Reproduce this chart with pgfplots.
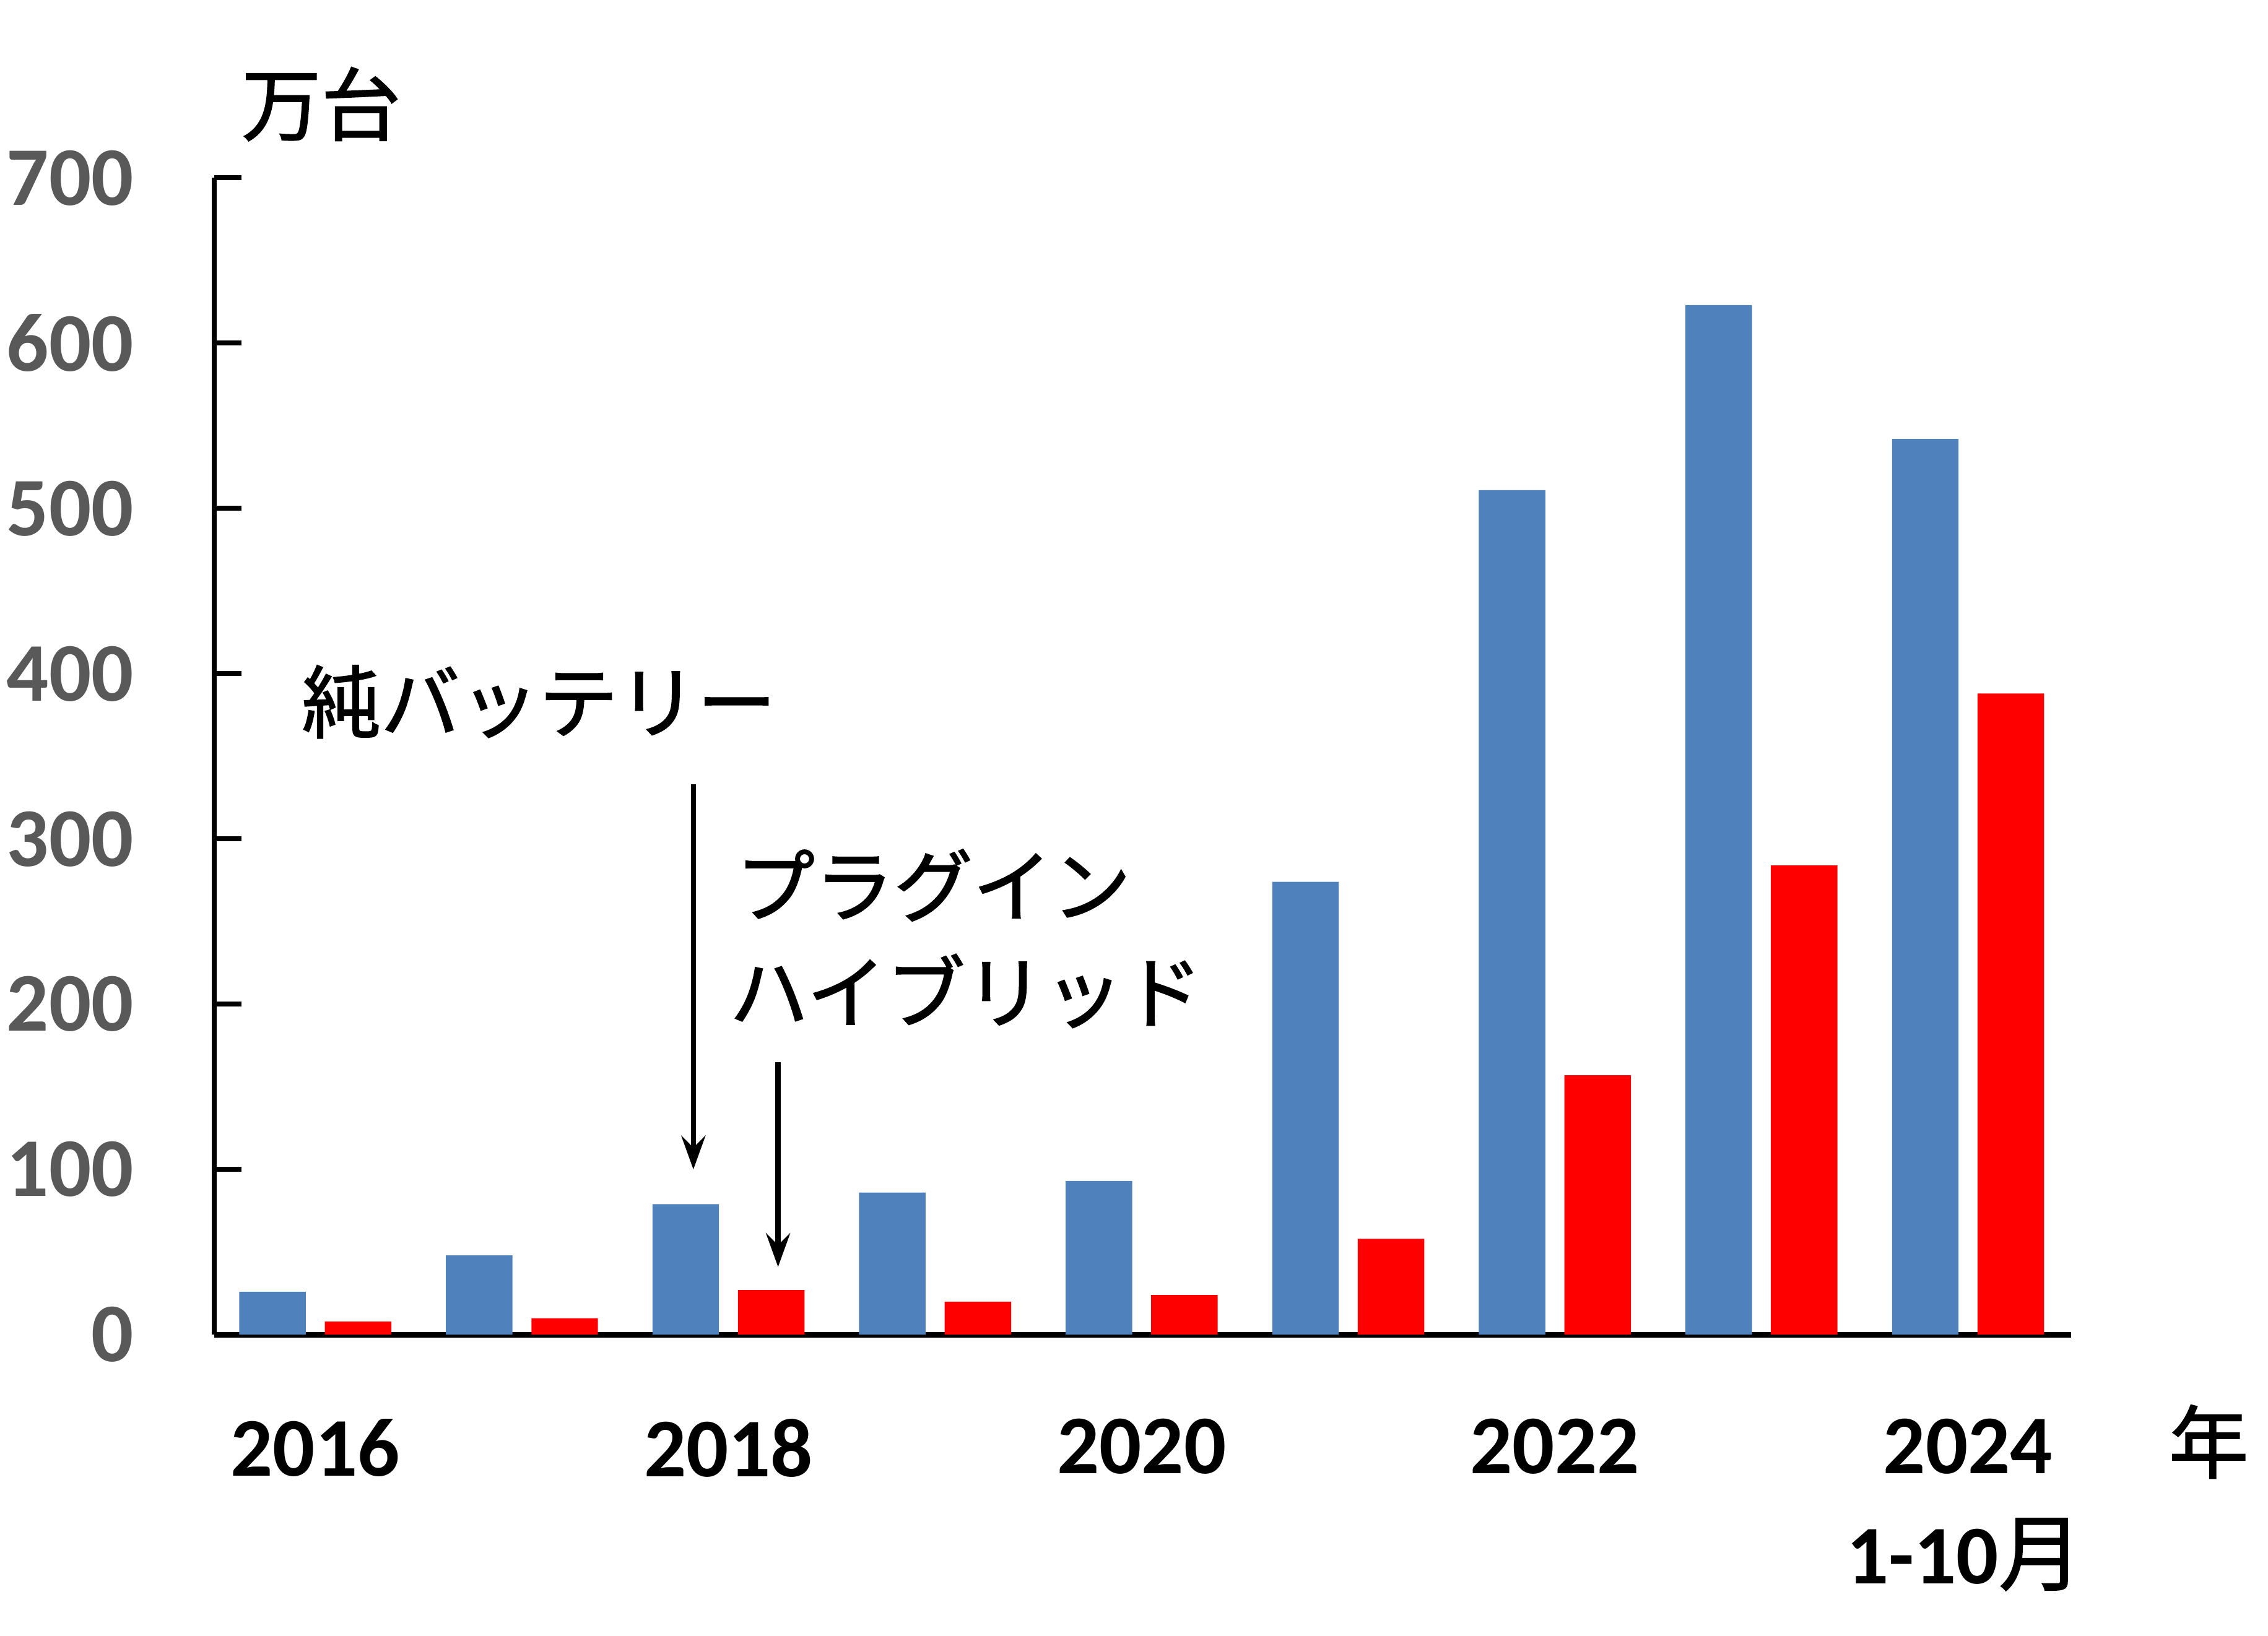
\documentclass[border=0pt]{standalone}
\usepackage{fontspec}
\setmainfont{Carlito}
\newfontfamily\cjk{Noto Sans CJK JP}[FakeBold=1.5]
\usepackage{pgfplots}
\pgfplotsset{compat=1.18}
\usetikzlibrary{arrows.meta}
\definecolor{bevblue}{HTML}{4F81BD}
\definecolor{phevred}{HTML}{FF0000}
\definecolor{tickgray}{HTML}{595959}

\begin{document}
\begin{tikzpicture}[x=1pt,y=1pt]
\path[use as bounding box] (0,0) rectangle (470.4,-339.3);
\begin{axis}[
  at={(44.4pt,-276.9pt)}, anchor=south west,
  width=385.2pt, height=240pt, scale only axis,
  xmin=2015.51, xmax=2024.5, ymin=0, ymax=700,
  axis x line=bottom, axis y line=left,
  x axis line style={-, line width=1.2pt},
  y axis line style={-, line width=1pt},
  ybar,
  bar width=0.322,
  ytick={0,100,...,700},
  xtick={2016,2018,2020,2022,2024},
  xticklabels={2016,2018,2020,2022,2024},
  tick align=inside,
  major tick length=5.7pt,
  ytick style={black, line width=1pt},
  xtick style={draw=none},
  /pgf/number format/assume math mode=true,
  yticklabel style={font=\bfseries\fontsize{17.3}{20}\selectfont, text=tickgray, inner sep=0pt, anchor=east, xshift=-16.5pt},
  xticklabel style={font=\bfseries\fontsize{17.3}{20}\selectfont, text=black, inner sep=0pt, anchor=north, yshift=-17.3pt},
  clip=false,
]
\addplot[fill=bevblue, draw=none, bar shift=-0.207] coordinates {
  (2016,26) (2017,48) (2018,79) (2019,86) (2020,93)
  (2021,274) (2022,511) (2023,623) (2024,542)};
\addplot[fill=phevred, draw=none, bar shift=0.207] coordinates {
  (2016,8) (2017,10) (2018,27) (2019,20) (2020,24)
  (2021,58) (2022,157) (2023,284) (2024,388)};
\draw[line width=1.1pt, -{Stealth[length=7pt,width=5pt,inset=2.5pt]}] (axis cs:2017.83,333) -- (axis cs:2017.83,100);
\draw[line width=1.1pt, -{Stealth[length=7pt,width=5pt,inset=2.5pt]}] (axis cs:2018.24,165) -- (axis cs:2018.24,41);
\node[anchor=west, inner sep=0pt, font=\cjk\fontsize{16.4}{18}\selectfont] at (axis cs:2015.93,383) {純バッテリー};
\node[anchor=west, inner sep=0pt, font=\cjk\fontsize{16.4}{18}\selectfont] at (axis cs:2018.03,272) {プラグイン};
\node[anchor=west, inner sep=0pt, font=\cjk\fontsize{16.4}{18}\selectfont] at (axis cs:2018.0,208) {ハイブリッド};
\end{axis}
\node[inner sep=0pt, font=\cjk\fontsize{16.5}{18}\selectfont] at (66.6,-21.6) {万台};
\node[inner sep=0pt, font=\cjk\fontsize{16.5}{18}\selectfont] at (458.1,-299.1) {年};
\node[inner sep=0pt, font=\bfseries\fontsize{17.3}{20}\selectfont] at (407.4,-322.5) {1-10{\mdseries\cjk 月}};
\end{tikzpicture}
\end{document}
